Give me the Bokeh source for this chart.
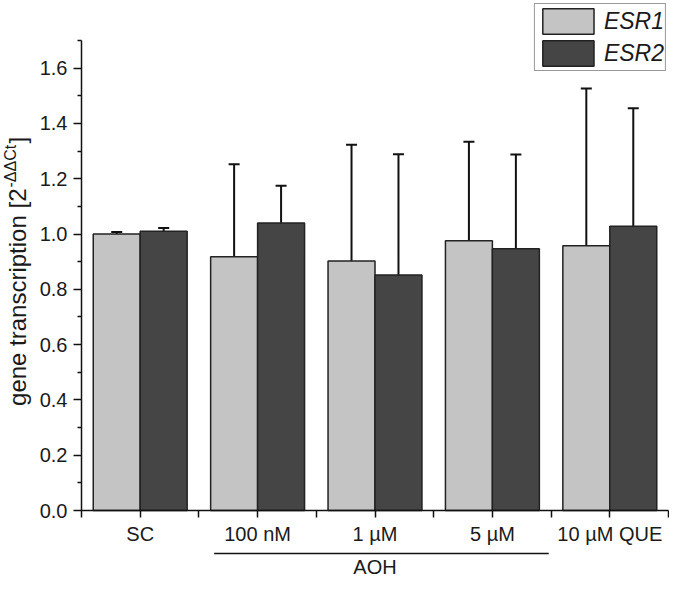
import math
from bokeh.plotting import figure
from bokeh.models import (ColumnDataSource, FixedTicker, Whisker, TeeHead, Legend,
                          LegendItem, Label, Range1d, NumeralTickFormatter)
from bokeh.embed import file_html
from bokeh.resources import INLINE

# ---- data ----
categories = ["SC", "100 nM", "1 µM", "5 µM", "10 µM QUE"]
positions = [1, 2, 3, 4, 5]
esr1 = [1.000, 0.918, 0.902, 0.976, 0.958]
esr1_sd = [0.007, 0.334, 0.421, 0.358, 0.568]
esr2 = [1.010, 1.040, 0.852, 0.947, 1.028]
esr2_sd = [0.012, 0.135, 0.437, 0.341, 0.427]
series_names = ["ESR1", "ESR2"]
group_label = "AOH"
group_span = [1.63, 4.48]
y_ticks = [0.0, 0.2, 0.4, 0.6, 0.8, 1.0, 1.2, 1.4, 1.6]

# ---- layout constants (canvas pixels) ----
W, H = 669, 577
FL, FR, FT, FB = 81, 668, 40, 510   # where the axes sit on the canvas
YMAX = 1.7
FONT = "Liberation Sans"
PXX = (FR - FL) / 5.0
PXY = (FB - FT) / YMAX


def xd(cx):
    return 0.5 + (cx - FL) / PXX


def yd(cy):
    return (FB - cy) / PXY


p = figure(width=W, height=H, output_backend="svg", toolbar_location=None,
           x_range=Range1d(xd(0), xd(W)), y_range=Range1d(yd(H), yd(0)),
           min_border=0)
p.outline_line_color = None
p.xgrid.visible = False
p.ygrid.visible = False
p.background_fill_color = "white"
p.border_fill_color = "white"

x1 = [v - 0.2 for v in positions]
x2 = [v + 0.2 for v in positions]
src1 = ColumnDataSource(dict(x=x1, top=esr1, up=[a + b for a, b in zip(esr1, esr1_sd)]))
src2 = ColumnDataSource(dict(x=x2, top=esr2, up=[a + b for a, b in zip(esr2, esr2_sd)]))

r1 = p.vbar(x="x", top="top", bottom=0, width=0.4, source=src1, fill_color="#c4c4c4",
            line_color="#222222", line_width=1.5)
r2 = p.vbar(x="x", top="top", bottom=0, width=0.4, source=src2, fill_color="#454545",
            line_color="#222222", line_width=1.5)

for s in (src1, src2):
    w = Whisker(base="x", lower="top", upper="up", source=s, line_width=2,
                line_color="#111111", lower_head=None,
                upper_head=TeeHead(size=11, line_width=2, line_color="#111111"))
    p.add_layout(w)

# ---- axes ----
xa = p.xaxis[0]
xa.fixed_location = 0
xa.bounds = (0.5, 5.5)
xa.ticker = FixedTicker(ticks=positions, minor_ticks=[v - 0.5 for v in positions] + [5.5])
xa.major_label_overrides = {k: c for k, c in zip(positions, categories)}
xa.major_tick_out = 7
xa.major_tick_in = 0
xa.minor_tick_out = 7
xa.minor_tick_in = 0
xa.major_label_text_font = FONT
xa.major_label_text_font_size = "20px"
xa.major_label_text_color = "#1a1a1a"
xa.major_label_standoff = 5

ya = p.yaxis[0]
ya.fixed_location = 0.5
ya.bounds = (0, YMAX)
ya.ticker = FixedTicker(ticks=y_ticks, minor_ticks=[round(t + 0.1, 1) for t in y_ticks])
ya.formatter = NumeralTickFormatter(format="0.0")
ya.major_tick_out = 8
ya.major_tick_in = 0
ya.minor_tick_out = 4
ya.minor_tick_in = 0
ya.major_label_text_font = FONT
ya.major_label_text_font_size = "20px"
ya.major_label_text_color = "#1a1a1a"
ya.major_label_standoff = 6

for ax in (xa, ya):
    ax.axis_line_width = 1.5
    ax.major_tick_line_width = 1.5
    ax.minor_tick_line_width = 1.5
    ax.axis_line_color = "#111111"
    ax.major_tick_line_color = "#111111"
    ax.minor_tick_line_color = "#111111"

# ---- y-axis title (with superscript) ----
J = 188  # canvas y of the junction between "[2" and the superscript
p.add_layout(Label(x=xd(17), y=yd(J), text="gene transcription [2", angle=math.pi / 2,
                   text_align="right", text_baseline="middle", text_font=FONT,
                   text_font_size="24px", text_color="#1a1a1a"))
p.add_layout(Label(x=xd(10), y=yd(J - 1), text="-ΔΔCt", angle=math.pi / 2,
                   text_align="left", text_baseline="middle", text_font=FONT,
                   text_font_size="16px", text_color="#1a1a1a"))
p.add_layout(Label(x=xd(17), y=yd(J - 45), text="]", angle=math.pi / 2,
                   text_align="left", text_baseline="middle", text_font=FONT,
                   text_font_size="24px", text_color="#1a1a1a"))

# ---- group bracket under x labels ----
p.segment(x0=[group_span[0]], x1=[group_span[1]], y0=[yd(553)], y1=[yd(553)],
          line_width=1.5, line_color="#111111")
p.add_layout(Label(x=sum(positions[1:4]) / 3.0, y=yd(566), text=group_label,
                   text_align="center", text_baseline="middle", text_font=FONT,
                   text_font_size="20px", text_color="#1a1a1a"))

# ---- legend ----
legend = Legend(items=[LegendItem(label=series_names[0], renderers=[r1]),
                       LegendItem(label=series_names[1], renderers=[r2])],
                location="top_right", orientation="vertical",
                glyph_width=64, glyph_height=32, spacing=-4, padding=1, margin=3,
                label_standoff=4, label_text_font=FONT, label_text_font_style="italic",
                label_text_font_size="23px", label_text_color="#1a1a1a",
                border_line_color="#333333", border_line_width=1,
                background_fill_color="white", background_fill_alpha=1.0)
p.add_layout(legend)

open("out.html", "w").write(file_html(p, INLINE))
